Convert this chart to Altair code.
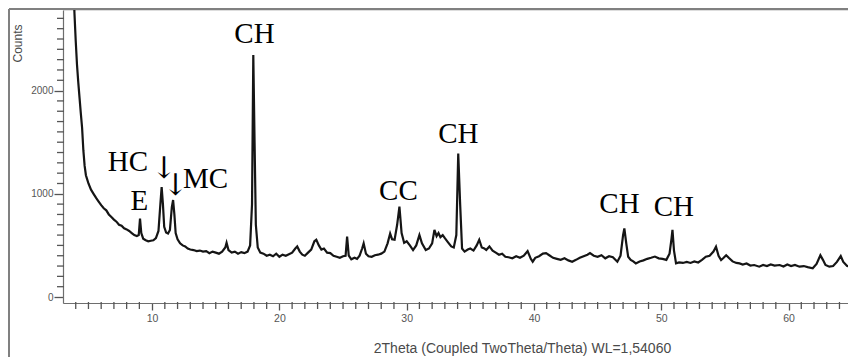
import altair as alt
import pandas as pd

# ---- data ----
theta = [3.80, 3.90, 4.00, 4.10, 4.20, 4.30, 4.40, 4.50, 4.60, 4.70, 4.80, 4.90, 5.00, 5.20, 5.40, 5.60, 5.80,
         6.00, 6.20, 6.40, 6.60, 6.80, 7.00, 7.20, 7.40, 7.60, 7.80, 8.00, 8.20, 8.40, 8.60, 8.80, 8.95, 9.05,
         9.15, 9.30, 9.50, 9.70, 9.90, 10.10, 10.30, 10.50, 10.65, 10.75, 10.85, 10.95, 11.10, 11.25, 11.40,
         11.55, 11.65, 11.75, 11.85, 12.00, 12.20, 12.40, 12.60, 12.80, 13.00, 13.25, 13.50, 13.75, 14.00,
         14.25, 14.50, 14.75, 15.00, 15.25, 15.50, 15.75, 15.85, 16.00, 16.25, 16.50, 16.75, 17.00, 17.25,
         17.50, 17.70, 17.85, 17.95, 18.05, 18.15, 18.30, 18.50, 18.75, 19.00, 19.25, 19.50, 19.75, 20.00,
         20.25, 20.50, 20.75, 21.00, 21.25, 21.40, 21.60, 21.80, 22.00, 22.25, 22.50, 22.75, 22.90, 23.10,
         23.30, 23.50, 23.75, 24.00, 24.25, 24.50, 24.75, 25.00, 25.20, 25.32, 25.45, 25.65, 25.90, 26.10,
         26.30, 26.50, 26.62, 26.80, 27.00, 27.25, 27.50, 27.75, 28.00, 28.25, 28.50, 28.70, 28.85, 29.05,
         29.25, 29.43, 29.60, 29.80, 30.00, 30.25, 30.50, 30.75, 31.00, 31.20, 31.50, 31.75, 32.00, 32.18,
         32.35, 32.50, 32.65, 32.83, 33.00, 33.25, 33.50, 33.70, 33.90, 34.05, 34.20, 34.35, 34.55, 34.80,
         35.00, 35.25, 35.50, 35.70, 35.90, 36.10, 36.25, 36.50, 36.75, 37.00, 37.25, 37.50, 37.75, 38.00,
         38.30, 38.60, 38.90, 39.20, 39.50, 39.75, 39.90, 40.10, 40.40, 40.70, 40.95, 41.20, 41.50, 41.80,
         42.10, 42.40, 42.70, 43.00, 43.30, 43.60, 43.90, 44.20, 44.40, 44.70, 45.00, 45.30, 45.60, 45.90,
         46.20, 46.55, 46.80, 47.00, 47.10, 47.25, 47.40, 47.60, 47.80, 48.00, 48.30, 48.60, 48.90, 49.20,
         49.50, 49.80, 50.10, 50.40, 50.65, 50.80, 50.88, 51.00, 51.16, 51.40, 51.70, 52.00, 52.30, 52.60,
         52.90, 53.20, 53.50, 53.80, 54.10, 54.30, 54.50, 54.70, 54.90, 55.10, 55.30, 55.60, 55.90, 56.15,
         56.40, 56.70, 57.00, 57.30, 57.70, 58.00, 58.30, 58.60, 58.90, 59.30, 59.60, 59.90, 60.20, 60.50,
         60.86, 61.20, 61.50, 61.90, 62.20, 62.50, 62.70, 62.90, 63.20, 63.50, 63.80, 64.10, 64.30, 64.60,
         64.90]
counts = [3100, 2750, 2480, 2250, 2080, 1930, 1780, 1640, 1420, 1270, 1180, 1140, 1100, 1040, 1000, 960, 925,
          890, 860, 840, 800, 775, 750, 730, 700, 690, 665, 655, 640, 620, 600, 590, 600, 760,
          620, 565, 550, 540, 545, 550, 570, 640, 900, 1065, 900, 680, 625, 615, 650,
          870, 940, 800, 620, 560, 520, 500, 490, 470, 460, 455, 445, 450, 440,
          445, 425, 440, 430, 420, 440, 480, 525, 455, 430, 440, 420, 435, 425,
          440, 500, 900, 2345, 1500, 700, 480, 430, 420, 400, 410, 395, 420, 390,
          410, 400, 415, 430, 470, 490, 440, 410, 400, 430, 460, 540, 555, 500,
          460, 470, 430, 425, 400, 390, 380, 395, 400, 585, 400, 365, 380, 370,
          400, 470, 520, 420, 395, 390, 405, 410, 420, 440, 520, 615, 560, 555,
          700, 875, 620, 525, 540, 500, 455, 500, 600, 520, 455, 470, 520, 650,
          590, 620, 580, 600, 570, 530, 490, 480, 600, 1390, 900, 470, 440, 460,
          470, 450, 500, 555, 480, 470, 455, 490, 450, 430, 410, 420, 390, 385,
          375, 395, 380, 400, 445, 370, 342, 380, 395, 420, 425, 405, 380, 370,
          360, 375, 355, 342, 360, 380, 395, 410, 425, 400, 390, 405, 375, 395,
          385, 342, 400, 600, 665, 520, 390, 360, 345, 326, 345, 355, 370, 380,
          392, 375, 370, 360, 420, 560, 650, 450, 326, 335, 330, 340, 330, 345,
          335, 360, 390, 400, 440, 487, 400, 358, 380, 405, 380, 345, 330, 326,
          315, 325, 305, 310, 294, 310, 300, 315, 305, 310, 295, 315, 300, 310,
          294, 300, 290, 278, 320, 405, 360, 310, 294, 300, 340, 397, 340, 300,
          294]

label_text = ["CH", "HC", "E", "MC", "CC", "CH", "CH", "CH"]
label_x = [18.04, 8.10, 9.00, 14.19, 29.35, 34.06, 46.72, 50.99]
label_y = [2461, 1221, 843, 1056, 940, 1492, 814, 785]

arrow_text = ["\u2193", "\u2193"]
arrow_x = [10.92, 11.83]
arrow_y = [1150, 990]

x_major = [10, 20, 30, 40, 50, 60]
x_minor = [v for v in range(4, 65) if v % 10 != 0]
y_major = [0, 1000, 2000]
y_minor = [v for v in range(100, 2800, 100) if v % 1000 != 0]

X_DOMAIN = [3, 64.67]
Y_DOMAIN = [-58, 2781]
W, H = 785, 293

df = pd.DataFrame({"theta": theta, "counts": counts})
lab = pd.DataFrame({"text": label_text, "x": label_x, "y": label_y})
arr = pd.DataFrame({"text": arrow_text, "x": arrow_x, "y": arrow_y})

xs = alt.Scale(domain=X_DOMAIN, nice=False, zero=False)
ys = alt.Scale(domain=Y_DOMAIN, nice=False, zero=False)

axis_common = dict(grid=False, domainColor="#6e6e6e", tickColor="#555555", labelColor="#555555",
                   labelFont="Liberation Sans", titleFont="Liberation Sans", titleColor="#4a4a4a",
                   titleFontWeight="normal", tickWidth=1.3, domainWidth=1.2)

line = alt.Chart(df).mark_line(color="#151515", strokeWidth=2.2, clip=True).encode(
    x=alt.X("theta:Q", scale=xs,
            axis=alt.Axis(values=x_major, tickSize=7, labelFontSize=10.5, labelPadding=3,
                          title="2Theta (Coupled TwoTheta/Theta) WL=1,54060", titleFontSize=14,
                          titleX=459, titleY=45, titleBaseline="middle", **axis_common)),
    y=alt.Y("counts:Q", scale=ys,
            axis=alt.Axis(values=y_major, format="d", tickSize=9, labelFontSize=10, labelPadding=1,
                          title="Counts", titleFontSize=12, titleX=-46, titleY=33,
                          titleBaseline="middle", titleAlign="center", **axis_common)),
)

# minor tick rows: position value plus the two ends of the little tick, in data units
px_per_count = H / (Y_DOMAIN[1] - Y_DOMAIN[0])
px_per_deg = W / (X_DOMAIN[1] - X_DOMAIN[0])
xm = pd.DataFrame({"v": x_minor})
xm["ya"] = Y_DOMAIN[0] + 1 / px_per_count
xm["yb"] = Y_DOMAIN[0] - 6 / px_per_count
ym = pd.DataFrame({"w": y_minor})
ym["xa"] = X_DOMAIN[0] + 1 / px_per_deg
ym["xb"] = X_DOMAIN[0] - 6 / px_per_deg

xminor = alt.Chart(xm).mark_rule(color="#555555", strokeWidth=1.3).encode(
    x=alt.X("v:Q", scale=xs), y=alt.Y("ya:Q", scale=ys), y2="yb:Q")
yminor = alt.Chart(ym).mark_rule(color="#555555", strokeWidth=1.3).encode(
    y=alt.Y("w:Q", scale=ys), x=alt.X("xa:Q", scale=xs), x2="xb:Q")

labels = alt.Chart(lab).mark_text(font="Liberation Serif", fontSize=29, color="#000000",
                                  align="center", baseline="alphabetic").encode(
    x=alt.X("x:Q", scale=xs), y=alt.Y("y:Q", scale=ys), text="text:N")

arrows = alt.Chart(arr).mark_text(font="DejaVu Serif", fontSize=30, color="#000000",
                                  align="center", baseline="alphabetic").encode(
    x=alt.X("x:Q", scale=xs), y=alt.Y("y:Q", scale=ys), text="text:N")

# outer picture frame (top and left edges)
fr = pd.DataFrame({"k": [0]})
frame_top = alt.Chart(fr).mark_rule(stroke="#808080", strokeWidth=2).encode(
    x=alt.value(-54), x2=alt.value(1200), y=alt.value(-1))
frame_left = alt.Chart(fr).mark_rule(stroke="#808080", strokeWidth=2).encode(
    x=alt.value(-54), y=alt.value(-1), y2=alt.value(1200))

chart = alt.layer(line, labels, arrows, frame_top, frame_left, xminor, yminor).properties(
    width=W, height=H,
    autosize=alt.AutoSizeParams(type="none"),
    padding={"left": 55, "top": 2, "right": 0, "bottom": 54},
).configure_view(strokeWidth=0).configure(background="white")

chart.save("out.html", embed_options={"renderer": "svg", "actions": False})
